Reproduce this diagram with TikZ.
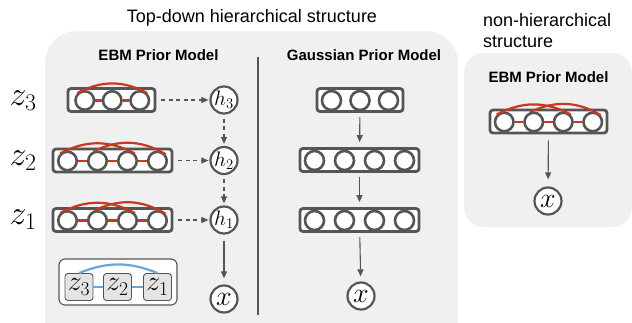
\RequirePackage{fix-cm}
\documentclass[tikz,border=0pt]{standalone}
\usepackage{fontspec}
\setsansfont{Liberation Sans}
\usetikzlibrary{arrows.meta}
\definecolor{panel}{HTML}{F0F0F0}
\definecolor{dk}{HTML}{555555}
\definecolor{edgered}{HTML}{C8371E}
\definecolor{edgeblue}{HTML}{6AA5DE}
\definecolor{sqfill}{HTML}{E4E4E4}
\tikzset{
  rowbox/.style={draw=dk, line width=2.8pt, rounded corners=3pt, fill=white, minimum height=23pt, inner sep=0pt},
  unit/.style={circle, draw=dk, line width=2.6pt, fill=white, minimum size=18.5pt, inner sep=0pt},
  gunit/.style={circle, draw=dk, line width=2.6pt, fill=white, minimum size=19pt, inner sep=0pt},
  var/.style={circle, draw=dk, line width=2.2pt, fill=white, minimum size=27pt, inner sep=0pt},
  redl/.style={draw=edgered, line width=2.2pt},
  bluel/.style={draw=edgeblue, line width=2.2pt},
  dasharrow/.style={draw=dk, line width=1.1pt, dash pattern=on 4pt off 3.5pt, -{Triangle[length=7pt,width=6pt]}},
  solidarrow/.style={draw=dk, line width=1.1pt, -{Triangle[length=7pt,width=6pt]}},
  title/.style={font=\sffamily\fontsize{18}{21}\selectfont, anchor=base, inner sep=0pt},
  subtitle/.style={font=\sffamily\bfseries\fontsize{15}{18}\selectfont, anchor=base, inner sep=0pt},
  zlabel/.style={font=\fontsize{34}{34}\selectfont, inner sep=0pt},
  sq/.style={draw=dk, line width=0.9pt, fill=sqfill, rounded corners=3pt, minimum width=28pt, minimum height=27pt, inner sep=0pt, font=\fontsize{28}{28}\selectfont},
  hfont/.style={font=\fontsize{21}{21}\selectfont},
  xfont/.style={font=\fontsize{28}{28}\selectfont},
}
\begin{document}
\begin{tikzpicture}[x=1pt,y=-1pt]
\useasboundingbox (0,0) rectangle (632,322);
% panels
\fill[panel, rounded corners=32pt] (45,31) rectangle (458,352);
\fill[panel] (45,300) rectangle (458,322);
\fill[panel, rounded corners=20pt] (464,53) rectangle (632,227);
\draw[dk, line width=2pt] (258,57) -- (258,315);
% titles
\node[title] (t1) at (252,22) {Top-down hierarchical structure};
\node[title, anchor=base west] (t2) at (483,26) {non-hierarchical};
\node[title, anchor=base west] (t3) at (483,47) {structure};
\node[subtitle] (s1) at (158.5,60) {EBM Prior Model};
\node[subtitle] (s2) at (364,60) {Gaussian Prior Model};
\node[subtitle] (s3) at (548.5,82) {EBM Prior Model};
% z labels
\node[zlabel] (lz3) at (23,101) {$z_3$};
\node[zlabel] (lz2) at (23,161) {$z_2$};
\node[zlabel] (lz1) at (23,220) {$z_1$};
% EBM row z3
\node[rowbox, minimum width=87pt] (a3) at (111.5,100) {};
\foreach \i in {1,2,3} \node[unit] (a3-\i) at ({112.25+(\i-2)*27.5},100.5) {};
\draw[redl] (a3-1) -- (a3-2) (a3-2) -- (a3-3);
\draw[redl] (a3-1.135) to[bend left=28] (a3-3.45);
% EBM rows z2, z1
\node[rowbox, minimum width=119pt] (a2) at (112.5,160.5) {};
\foreach \i in {1,...,4} \node[unit] (a2-\i) at ({112.5+(\i-2.5)*30},161) {};
\foreach \i/\j in {1/2,2/3,3/4} \draw[redl] (a2-\i) -- (a2-\j);
\draw[redl] (a2-1.135) to[bend left=28] (a2-3.45);
\draw[redl] (a2-2.110) to[bend left=28] (a2-4.40);
\node[rowbox, minimum width=119pt] (a1) at (112.5,220) {};
\foreach \i in {1,...,4} \node[unit] (a1-\i) at ({112.5+(\i-2.5)*30},220.5) {};
\foreach \i/\j in {1/2,2/3,3/4} \draw[redl] (a1-\i) -- (a1-\j);
\draw[redl] (a1-1.135) to[bend left=28] (a1-3.45);
\draw[redl] (a1-2.110) to[bend left=28] (a1-4.40);
% h nodes
\node[var, hfont] (h3) at (224,100) {$h_3$};
\node[var, hfont] (h2) at (224,160.5) {$h_2$};
\node[var, hfont] (h1) at (224,220) {$h_1$};
\node[var, xfont] (xl) at (224,299) {$x$};
\draw[dasharrow, shorten <=5pt, shorten >=1pt] (a3) -- (h3);
\draw[dasharrow, shorten <=5pt, shorten >=1pt] (a2) -- (h2);
\draw[dasharrow, shorten <=5pt, shorten >=1pt] (a1) -- (h1);
\draw[dasharrow, shorten <=4pt, shorten >=2pt] (h3) -- (h2);
\draw[dasharrow, shorten <=4pt, shorten >=2pt] (h2) -- (h1);
\draw[solidarrow, shorten <=6pt, shorten >=6pt] (h1) -- (xl);
% legend
\node[draw=dk, line width=1.1pt, fill=white, rounded corners=6pt, minimum width=118pt, minimum height=46pt] (leg) at (118,282) {};
\node[sq] (q3) at (79,287) {$z_3$};
\node[sq] (q2) at (117.5,287) {$z_2$};
\node[sq] (q1) at (157.5,287) {$z_1$};
\draw[bluel] (q3) -- (q2) (q2) -- (q1);
\draw[bluel] (q3.north) to[bend left=22] (q1.north);
% Gaussian column
\node[rowbox, minimum width=86pt] (g3) at (360,100) {};
\foreach \i in {1,2,3} \node[gunit] (g3-\i) at ({360+(\i-2)*28.5},100.5) {};
\node[rowbox, minimum width=119pt] (g2) at (359.5,160) {};
\foreach \i in {1,...,4} \node[gunit] (g2-\i) at ({359.5+(\i-2.5)*30},160.5) {};
\node[rowbox, minimum width=119pt] (g1) at (359.5,220) {};
\foreach \i in {1,...,4} \node[gunit] (g1-\i) at ({359.5+(\i-2.5)*30},220.5) {};
\node[var, xfont] (xg) at (361,296) {$x$};
\draw[solidarrow, shorten <=4pt, shorten >=5pt] (g3) -- (g2);
\draw[solidarrow, shorten <=4pt, shorten >=5pt] (g2) -- (g1);
\draw[solidarrow, shorten <=4pt, shorten >=5pt] (g1) -- (xg);
% right panel
\node[rowbox, minimum width=117pt] (r) at (548.5,121.5) {};
\foreach \i in {1,...,4} \node[unit] (r-\i) at ({548.5+(\i-2.5)*29.5},122) {};
\foreach \i/\j in {1/2,2/3,3/4} \draw[redl] (r-\i) -- (r-\j);
\draw[redl] (r-1.135) to[bend left=28] (r-3.45);
\draw[redl] (r-2.110) to[bend left=28] (r-4.40);
\node[var, xfont] (xr) at (548,201) {$x$};
\draw[solidarrow, shorten <=6pt, shorten >=7pt] (r) -- (xr);
\end{tikzpicture}
\end{document}
